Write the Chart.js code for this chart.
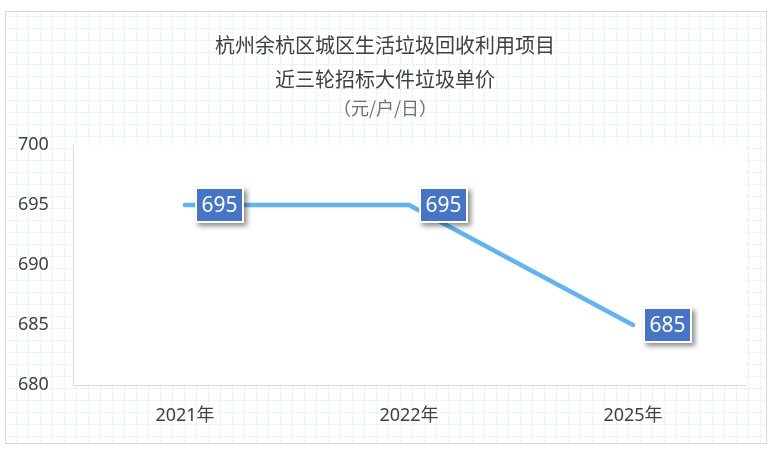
<!DOCTYPE html>
<html>
<head>
<meta charset="utf-8">
<script src="https://cdn.jsdelivr.net/npm/chart.js@4"></script>
<style>
html,body{margin:0;padding:0;background:#fff;}
#wrap{width:774px;height:455px;position:relative;}
</style>
</head>
<body>
<div id="wrap"><canvas id="c"></canvas></div>
<script>
const titleLines = ['杭州余杭区城区生活垃圾回收利用项目', '近三轮招标大件垃圾单价'];
const unitLine = '（元/户/日）';
const categories = ['2021年', '2022年', '2025年'];
const prices = [695, 695, 685];
const yTicks = [680, 685, 690, 695, 700];

const bgPlugin = {
  id: 'bg',
  beforeDraw(chart) {
    const ctx = chart.ctx;
    const W = chart.width, H = chart.height;
    ctx.save();
    ctx.fillStyle = '#ffffff';
    ctx.fillRect(0, 0, W, H);
    const fx = 5, fy = 11, fw = 761, fh = 432;
    ctx.beginPath();
    ctx.rect(fx, fy, fw, fh);
    ctx.clip();
    ctx.strokeStyle = '#d6ebfb';
    ctx.lineWidth = 1;
    ctx.setLineDash([1.5, 1.5]);
    ctx.beginPath();
    for (let x = 16.5; x < fx + fw; x += 12) { ctx.moveTo(x, fy); ctx.lineTo(x, fy + fh); }
    for (let y = 16.5; y < fy + fh; y += 12) { ctx.moveTo(fx, y); ctx.lineTo(fx + fw, y); }
    ctx.stroke();
    ctx.restore();
    ctx.save();
    ctx.strokeStyle = '#d9d9d9';
    ctx.lineWidth = 1;
    ctx.strokeRect(fx + 0.5, fy + 0.5, fw, fh);
    const a = chart.chartArea;
    ctx.fillStyle = '#ffffff';
    ctx.fillRect(a.left, a.top, a.right - a.left, a.bottom - a.top);
    ctx.textAlign = 'center';
    ctx.textBaseline = 'middle';
    ctx.fillStyle = '#404040';
    ctx.font = '20px "Noto Sans CJK SC", "Noto Sans", sans-serif';
    ctx.fillText(titleLines[0], 385, 45);
    ctx.fillText(titleLines[1], 385, 79);
    ctx.fillStyle = '#707070';
    ctx.font = '18px "Noto Sans CJK SC", "Noto Sans", sans-serif';
    ctx.fillText(unitLine, 385, 108);
    ctx.restore();
  }
};

const labelPlugin = {
  id: 'valueLabels',
  afterDatasetsDraw(chart) {
    const ctx = chart.ctx;
    const meta = chart.getDatasetMeta(0);
    const data = chart.data.datasets[0].data;
    meta.data.forEach((pt, i) => {
      const w = 49, h = 36;
      const left = pt.x + 10, top = pt.y - h / 2;
      ctx.save();
      ctx.shadowColor = 'rgba(0,0,0,0.45)';
      ctx.shadowBlur = 5;
      ctx.shadowOffsetX = 3;
      ctx.shadowOffsetY = 3;
      ctx.fillStyle = '#ffffff';
      ctx.fillRect(left, top, w, h);
      ctx.restore();
      ctx.save();
      ctx.fillStyle = '#4674c8';
      ctx.fillRect(left + 2, top + 2, w - 4, h - 4);
      ctx.fillStyle = '#ffffff';
      ctx.font = '21px "Noto Sans", "Open Sans", sans-serif';
      ctx.textAlign = 'center';
      ctx.textBaseline = 'middle';
      ctx.fillText(String(data[i]), left + w / 2, top + h / 2 + 1);
      ctx.restore();
    });
  }
};

new Chart(document.getElementById('c'), {
  type: 'line',
  data: {
    labels: categories,
    datasets: [{
      data: prices,
      borderColor: '#5fb4f7',
      borderWidth: 4.5,
      borderCapStyle: 'round',
      borderJoinStyle: 'round',
      pointRadius: 0,
      pointHoverRadius: 0,
      tension: 0,
      fill: false,
      clip: false
    }]
  },
  options: {
    responsive: true,
    maintainAspectRatio: false,
    animation: false,
    events: [],
    layout: { padding: { left: 18, right: 29, top: 145, bottom: 0 } },
    plugins: {
      legend: { display: false },
      title: { display: false },
      tooltip: { enabled: false }
    },
    scales: {
      x: {
        offset: true,
        grid: { display: false, drawTicks: false },
        border: { display: true, color: '#d9d9d9', width: 1 },
        ticks: {
          color: '#404040',
          padding: 20,
          font: { size: 18, family: '"Noto Sans", "Noto Sans CJK SC", sans-serif' }
        },
        afterFit(scale) { scale.height = 70; }
      },
      y: {
        min: 680,
        max: 700,
        afterBuildTicks(scale) { scale.ticks = yTicks.map(v => ({ value: v })); },
        grid: { display: false, drawTicks: false },
        border: { display: true, color: '#d9d9d9', width: 1 },
        ticks: {
          color: '#404040',
          crossAlign: 'far',
          padding: 8,
          font: { size: 18, family: '"Noto Sans", sans-serif' }
        },
        afterFit(scale) { scale.width = 55; }
      }
    }
  },
  plugins: [bgPlugin, labelPlugin]
});
</script>
</body>
</html>
